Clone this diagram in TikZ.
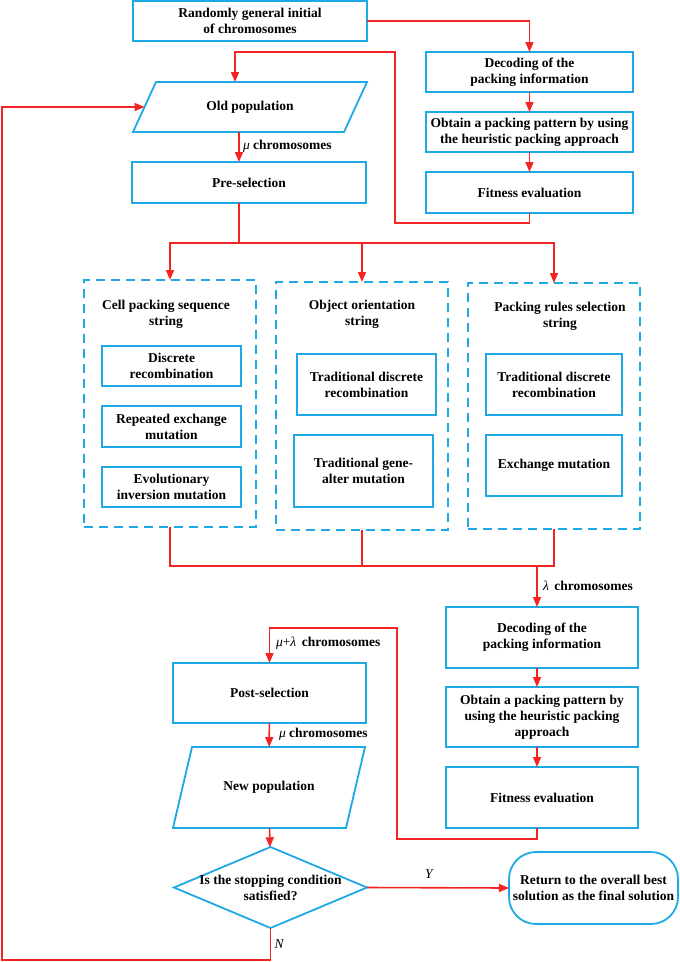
\documentclass[tikz,border=0pt]{standalone}
\usepackage{fontspec}
\setmainfont{Liberation Serif}
\usetikzlibrary{arrows.meta,shapes.geometric}
\definecolor{flowBlue}{HTML}{1DA8E6}
\definecolor{flowRed}{HTML}{F22424}
\tikzset{
  flow diagram/.style={
    x=1pt, y=-1pt,
    >={Triangle[length=10pt,width=8pt]},
    every node/.style={font=\fontsize{13.5}{16}\selectfont\bfseries,
      text=black, align=center, inner sep=0pt, outer sep=0pt}
  },
  flow box/.style 2 args={draw=flowBlue, line width=1.8pt,
    minimum width=#1, minimum height=#2},
  flow data/.style 2 args={minimum width=#1, minimum height=#2},
  flow edge/.style={draw=flowBlue, line width=1.8pt, line join=miter},
  flow group/.style 2 args={draw=flowBlue, line width=1.8pt,
    dash pattern=on 9pt off 6pt, minimum width=#1, minimum height=#2},
  flow link/.style={draw=flowRed, line width=1.6pt},
  flow tag/.style={font=\fontsize{13.5}{16}\selectfont\itshape\mdseries}
}
\newcommand{\FlowSlant}[2]{%
  \draw[flow edge] ([xshift=#2pt]#1.north west) -- ([xshift=#2pt]#1.north east)
    -- ([xshift=-#2pt]#1.south east) -- ([xshift=-#2pt]#1.south west) -- cycle;
}

\begin{document}
\begin{tikzpicture}[flow diagram]
    \useasboundingbox (0,0) rectangle (680,962);

    \node[flow box={234}{40}] (init) at (250,21) {Randomly general initial\\of chromosomes};
    \node[flow box={207}{40}] (dec1) at (529.5,72) {Decoding of the\\packing information};
    \node[flow box={207}{40}] (obt1) at (529.5,132) {Obtain a packing pattern by using\\the heuristic packing approach};
    \node[flow box={207}{41}] (fit1) at (529.5,192.5) {Fitness evaluation};
    \node[flow data={211}{50}] (old) at (250,107) {Old population};
    \FlowSlant{old}{11.5}
    \node[flow box={234}{41}] (pre) at (249,182.5) {Pre-selection};

    \node[flow group={172}{247}] (cellG) at (170,403.5) {};
    \node[flow group={172}{248}] (orientG) at (362,406) {};
    \node[flow group={172}{246}] (rulesG) at (554,406) {};
    \node (cellT) at (166,314) {Cell packing sequence\\string};
    \node (orientT) at (362,314) {Object orientation\\string};
    \node (rulesT) at (560,316) {Packing rules selection\\string};
    \node[flow box={139}{40}] (cellA) at (171.5,366) {Discrete\\recombination};
    \node[flow box={139}{41}] (cellB) at (171.5,426.5) {Repeated exchange\\mutation};
    \node[flow box={139}{40}] (cellC) at (171.5,487) {Evolutionary\\inversion mutation};
    \node[flow box={139}{61}] (orientA) at (366.5,384.5) {Traditional discrete\\recombination};
    \node[flow box={139}{72}] (orientB) at (363.5,471) {Traditional gene-\\alter mutation};
    \node[flow box={136}{61}] (rulesA) at (554,384.5) {Traditional discrete\\recombination};
    \node[flow box={136}{61}] (rulesB) at (554,465.5) {Exchange mutation};

    \node[flow box={192}{61}] (dec2) at (542,637.5) {Decoding of the\\packing information};
    \node[flow box={192}{60}] (obt2) at (542,717) {Obtain a packing pattern by\\using the heuristic packing\\approach};
    \node[flow box={192}{61}] (fit2) at (542,797.5) {Fitness evaluation};
    \node[flow box={193}{60}] (post) at (269.5,693) {Post-selection};
    \node[flow data={173}{81}] (newpop) at (269,787.5) {New population};
    \FlowSlant{newpop}{9.5}
    \node[draw=flowBlue, line width=1.8pt, diamond, minimum width=193,
      minimum height=81, label=center:{Is the stopping condition\\satisfied?}] (stop) at (270.5,887.5) {};
    \node[flow box={169}{72}, rounded corners=27pt] (final) at (593.5,888) {Return to the overall best\\solution as the final solution};

    \node[anchor=west] (muPre) at (243,146) {{\itshape\mdseries μ} chromosomes};
    \node[anchor=west] (lamCh) at (543,586) {{\itshape\mdseries λ}\, chromosomes};
    \node[anchor=west] (muLam) at (276,643) {{\itshape\mdseries μ}{\mdseries+}{\itshape\mdseries λ}\, chromosomes};
    \node[anchor=west] (muPost) at (279,734) {{\itshape\mdseries μ} chromosomes};
    \node[flow tag] (yes) at (429,874) {Y};
    \node[flow tag] (no) at (279,944) {N};

    \coordinate (loopA) at (395,223);
    \coordinate (loopB) at (235,52);
    \coordinate (stem) at (239,243);
    \coordinate (merge) at (537,566);
    \coordinate (loopC) at (397,839);
    \coordinate (loopD) at (397,628);
    \coordinate (loopE) at (2,960);

    \draw[flow link,->] (init.east) -| (dec1.north);
    \draw[flow link,->] (dec1) -- (obt1);
    \draw[flow link,->] (obt1) -- (fit1);
    \draw[flow link,->] (fit1.south) |- (loopA) |- (loopB) -- (loopB |- old.north);
    \draw[flow link,->] (old.south -| stem) -- (pre.north -| stem);
    \draw[flow link,->] (pre.south -| stem) -- (stem) -| (cellG.north);
    \draw[flow link,->] (stem) -| (orientG.north);
    \draw[flow link,->] (stem) -| (rulesG.north);
    \draw[flow link] (cellG.south) |- (rulesG.south |- merge) -- (rulesG.south);
    \draw[flow link] (orientG.south) -- (orientG.south |- merge);
    \draw[flow link,->] (merge) -- (dec2.north -| merge);
    \draw[flow link,->] (dec2.south -| merge) -- (obt2.north -| merge);
    \draw[flow link,->] (obt2.south -| merge) -- (fit2.north -| merge);
    \draw[flow link,->] (fit2.south -| merge) |- (loopC) -- (loopD) -| (post.north);
    \draw[flow link,->] (post) -- (newpop);
    \draw[flow link,->] (newpop) -- (stop);
    \draw[flow link,->] (stop.east) -- (final.west);
    \draw[flow link,->] (stop.south) |- (loopE) |- (old.west);
  \end{tikzpicture}
\end{document}
